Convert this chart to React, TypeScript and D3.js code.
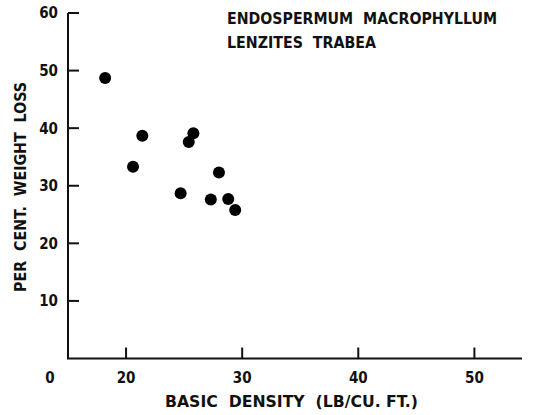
import { useEffect, useRef } from "react";
import * as d3 from "d3";

const density = [18.2, 21.4, 20.6, 25.8, 25.4, 28.0, 24.7, 27.3, 28.8, 29.4];
const weightLoss = [48.7, 38.7, 33.3, 39.1, 37.6, 32.3, 28.7, 27.6, 27.7, 25.8];
const xTicks = [20, 30, 40, 50];
const yTicks = [10, 20, 30, 40, 50, 60];
const titleLines = ["ENDOSPERMUM  MACROPHYLLUM", "LENZITES  TRABEA"];

export default function App() {
  const svgRef = useRef(null);

  useEffect(() => {
    const width = 533;
    const height = 415;
    const font = "'DejaVu Sans Condensed', 'DejaVu Sans', sans-serif";

    const svg = d3.select(svgRef.current);
    svg.selectAll("*").remove();
    svg.attr("width", width).attr("height", height);

    svg.append("rect").attr("width", width).attr("height", height).attr("fill", "#fff");

    const x = d3.scaleLinear().domain([15, 54.1]).range([68, 522]);
    const y = d3.scaleLinear().domain([0, 60]).range([358.5, 13]);

    // axes drawn by hand: ticks point inward
    svg.append("path")
      .attr("d", `M${x(15)},${y(60)}H${x(15) + 11}M${x(15)},${y(60)}V${y(0)}H${x(54.1)}`)
      .attr("fill", "none")
      .attr("stroke", "#111")
      .attr("stroke-width", 2);

    svg.append("g")
      .selectAll("line")
      .data(yTicks)
      .join("line")
      .attr("x1", x(15))
      .attr("x2", x(15) + 11)
      .attr("y1", d => y(d))
      .attr("y2", d => y(d))
      .attr("stroke", "#111")
      .attr("stroke-width", 2);

    svg.append("g")
      .selectAll("text")
      .data(yTicks)
      .join("text")
      .attr("x", 58)
      .attr("y", d => y(d))
      .attr("dy", "0.36em")
      .attr("text-anchor", "end")
      .attr("font-family", font)
      .attr("font-weight", "bold")
      .attr("font-size", 15)
      .attr("fill", "#111")
      .text(d => d);

    svg.append("g")
      .selectAll("line")
      .data(xTicks)
      .join("line")
      .attr("x1", d => x(d))
      .attr("x2", d => x(d))
      .attr("y1", y(0))
      .attr("y2", y(0) - 11)
      .attr("stroke", "#111")
      .attr("stroke-width", 2);

    svg.append("g")
      .selectAll("text")
      .data(xTicks)
      .join("text")
      .attr("x", d => x(d))
      .attr("y", 378)
      .attr("dy", "0.36em")
      .attr("text-anchor", "middle")
      .attr("font-family", font)
      .attr("font-weight", "bold")
      .attr("font-size", 15)
      .attr("fill", "#111")
      .text(d => d);

    svg.append("text")
      .attr("x", 50)
      .attr("y", 378)
      .attr("dy", "0.36em")
      .attr("text-anchor", "middle")
      .attr("font-family", font)
      .attr("font-weight", "bold")
      .attr("font-size", 15)
      .attr("fill", "#111")
      .text("0");

    svg.append("g")
      .selectAll("circle")
      .data(density.map((d, i) => [d, weightLoss[i]]))
      .join("circle")
      .attr("cx", d => x(d[0]))
      .attr("cy", d => y(d[1]))
      .attr("r", 6)
      .attr("fill", "#000");

    svg.append("text")
      .attr("x", 165)
      .attr("y", 407)
      .attr("textLength", 253)
      .attr("lengthAdjust", "spacingAndGlyphs")
      .attr("font-family", font)
      .attr("font-size", 16)
      .attr("font-weight", "bold")
      .attr("fill", "#111")
      .style("white-space", "pre")
      .text("BASIC  DENSITY  (LB/CU. FT.)");

    svg.append("text")
      .attr("transform", "translate(26,292) rotate(-90)")
      .attr("textLength", 210)
      .attr("lengthAdjust", "spacingAndGlyphs")
      .attr("font-family", font)
      .attr("font-size", 16)
      .attr("font-weight", "bold")
      .attr("fill", "#111")
      .style("white-space", "pre")
      .text("PER  CENT.  WEIGHT  LOSS");

    const lens = [270, 149];
    svg.append("g")
      .selectAll("text")
      .data(titleLines)
      .join("text")
      .attr("x", 227)
      .attr("y", (d, i) => 24 + i * 24)
      .attr("textLength", (d, i) => lens[i])
      .attr("lengthAdjust", "spacingAndGlyphs")
      .attr("font-family", font)
      .attr("font-size", 16)
      .attr("font-weight", "bold")
      .attr("fill", "#111")
      .style("white-space", "pre")
      .text(d => d);
  }, []);

  return (
    <div style={{ position: "absolute", left: 0, top: 0 }}>
      <svg ref={svgRef}></svg>
    </div>
  );
}
